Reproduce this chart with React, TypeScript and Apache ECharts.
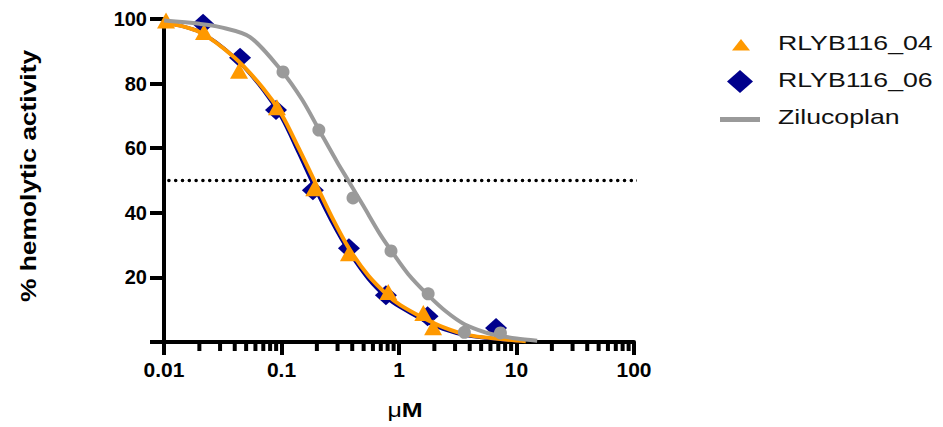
import React, { useEffect, useRef } from "react";
import * as echarts from "echarts";

// ---- data ----
const xTickLabels = ["0.01", "0.1", "1", "10", "100"];
const yTickLabels = ["", "20", "40", "60", "80", "100"];
const minorTicks = [
  0.02, 0.03, 0.04, 0.05, 0.06, 0.07, 0.08, 0.09,
  0.2, 0.3, 0.4, 0.5, 0.6, 0.7, 0.8, 0.9,
  2, 3, 4, 5, 6, 7, 8, 9,
  20, 30, 40, 50, 60, 70, 80, 90,
];
const halfLine = [[0.011, 50], [126, 50]];

const rlyb04Points = [
  [0.0104, 99.5], [0.0219, 96], [0.0435, 84], [0.0915, 72.7], [0.19, 47.6],
  [0.375, 27.5], [0.81, 15.5], [1.61, 9], [1.95, 4.6],
];
const rlyb06Points = [
  [0.0215, 98.5], [0.0444, 88], [0.0898, 71.8], [0.185, 47], [0.375, 29],
  [0.774, 14.5], [1.75, 8], [6.7, 4.3],
];
const ziluPoints = [
  [0.103, 83.6], [0.208, 65.6], [0.406, 44.6], [0.855, 28.2], [1.77, 14.9],
  [3.6, 3], [7.3, 2.8],
];

const rlyb04Curve = [
  [0.01, 99], [0.02, 96], [0.04, 88], [0.07, 78.5], [0.1, 70.5], [0.14, 60],
  [0.19, 50], [0.27, 38.5], [0.375, 29], [0.55, 20.5], [0.8, 14.5], [1.02, 11.5],
  [1.6, 7.5], [2.37, 4.6], [3.8, 2.2], [7.3, 0.9], [12, 0.2],
];
const rlyb06Curve = [
  [0.01, 99], [0.02, 96], [0.04, 88], [0.07, 78], [0.1, 69.5], [0.14, 58.5],
  [0.185, 49], [0.27, 37], [0.375, 28], [0.55, 19.5], [0.8, 13.5], [1.02, 10.8],
  [1.6, 6.8], [2.37, 4], [3.8, 2], [7.3, 0.8], [11, 0.3],
];
const ziluCurve = [
  [0.01, 99.5], [0.02, 98.5], [0.03, 97.5], [0.054, 94.4], [0.1, 84], [0.15, 75],
  [0.21, 65.5], [0.3, 55.5], [0.37, 50], [0.5, 42], [0.7, 33], [0.85, 28.5],
  [1.2, 21], [1.77, 14.5], [2.5, 9.5], [3.6, 5.5], [5.5, 2.9], [7.3, 1.9],
  [10, 1.1], [15, 0.4],
];

const ORANGE = "#FF9900";
const NAVY = "#00008C";
const GRAY = "#9A9A9A";
const FONT = '"Liberation Sans", Arial, sans-serif';

export default function App() {
  const ref = useRef<HTMLDivElement>(null);
  useEffect(() => {
    if (!ref.current) return;
    const chart = echarts.init(ref.current, null, { renderer: "svg" });
    chart.setOption({
      animation: false,
      grid: { left: 164, right: 309, top: 19, bottom: 85, containLabel: false },
      xAxis: {
        type: "log",
        logBase: 10,
        min: 0.01,
        max: 100,
        axisLine: { onZero: false, lineStyle: { color: "#000", width: 4 } },
        axisTick: { show: true, length: 13, lineStyle: { color: "#000", width: 4 } },
        minorTick: { show: false },
        splitLine: { show: false },
        axisLabel: {
          margin: 17,
          fontSize: 21,
          fontWeight: "bold",
          fontFamily: FONT,
          color: "#000",
          formatter: (v: number) => {
            const i = Math.round(Math.log10(v)) + 2;
            return xTickLabels[i] ?? "";
          },
        },
      },
      yAxis: {
        type: "value",
        min: 0,
        max: 100,
        interval: 20,
        axisLine: { show: true, onZero: false, lineStyle: { color: "#000", width: 4 } },
        axisTick: { show: true, length: 14, lineStyle: { color: "#000", width: 4 } },
        splitLine: { show: false },
        axisLabel: {
          margin: 17,
          fontSize: 20,
          fontWeight: "bold",
          fontFamily: FONT,
          color: "#000",
          formatter: (v: number) => yTickLabels[Math.round(v / 20)] ?? "",
        },
      },
      graphic: [
        {
          type: "text",
          x: 28,
          y: 176,
          rotation: Math.PI / 2,
          scaleX: 1.2,
          style: {
            text: "% hemolytic activity",
            fontSize: 22,
            fontWeight: "bold",
            fontFamily: FONT,
            fill: "#000",
            align: "center",
            verticalAlign: "middle",
          },
        },
        {
          type: "text",
          x: 405,
          y: 410,
          scaleX: 1.25,
          style: {
            text: "{a|μ}{b|M}",
            align: "center",
            verticalAlign: "middle",
            fill: "#000",
            rich: {
              a: { fontSize: 20, fontFamily: FONT, fontWeight: "normal", fill: "#000" },
              b: { fontSize: 20, fontFamily: FONT, fontWeight: "bold", fill: "#000" },
            },
          },
        },
        // legend
        {
          type: "polygon",
          shape: { points: [[732, 50.5], [741, 39], [750, 50.5]] },
          style: { fill: ORANGE },
        },
        {
          type: "polygon",
          shape: { points: [[727, 81.5], [740, 70], [753, 81.5], [740, 93]] },
          style: { fill: NAVY },
        },
        {
          type: "rect",
          shape: { x: 720, y: 117, width: 40, height: 5 },
          style: { fill: GRAY },
        },
        {
          type: "text",
          x: 778,
          y: 43,
          scaleX: 1.27,
          style: { text: "RLYB116_04", fontSize: 21, fontFamily: FONT, fill: "#111", verticalAlign: "middle" },
        },
        {
          type: "text",
          x: 778,
          y: 80,
          scaleX: 1.27,
          style: { text: "RLYB116_06", fontSize: 21, fontFamily: FONT, fill: "#111", verticalAlign: "middle" },
        },
        {
          type: "text",
          x: 778,
          y: 117,
          scaleX: 1.27,
          style: { text: "Zilucoplan", fontSize: 21, fontFamily: FONT, fill: "#111", verticalAlign: "middle" },
        },
      ],
      series: [
        {
          type: "custom",
          name: "minorTicks",
          clip: false,
          silent: true,
          z: 1,
          data: minorTicks.map((v) => [v, 0]),
          renderItem: (params: any, api: any) => {
            const p = api.coord([api.value(0), 0]);
            return {
              type: "line",
              shape: { x1: p[0], y1: p[1], x2: p[0], y2: p[1] + 9 },
              style: { stroke: "#000", lineWidth: 4 },
            };
          },
        },
        {
          type: "line",
          name: "half",
          data: halfLine,
          clip: false,
          symbol: "none",
          silent: true,
          z: 2,
          lineStyle: { color: "#000", width: 3.5, type: [0.1, 6.7], cap: "round" },
        },
        {
          type: "scatter",
          name: "RLYB116_06",
          data: rlyb06Points,
          symbol: "diamond",
          symbolSize: [22, 20],
          itemStyle: { color: NAVY, opacity: 1 },
          z: 3,
        },
        {
          type: "line",
          name: "RLYB116_06 fit",
          data: rlyb06Curve,
          smooth: 0.3,
          symbol: "none",
          lineStyle: { color: NAVY, width: 3.5 },
          z: 4,
        },
        {
          type: "scatter",
          name: "RLYB116_04",
          data: rlyb04Points,
          symbol: "triangle",
          symbolSize: [18, 16],
          itemStyle: { color: ORANGE, opacity: 1 },
          z: 5,
        },
        {
          type: "line",
          name: "RLYB116_04 fit",
          data: rlyb04Curve,
          smooth: 0.3,
          symbol: "none",
          lineStyle: { color: ORANGE, width: 4 },
          z: 6,
        },
        {
          type: "line",
          name: "Zilucoplan",
          data: ziluCurve,
          smooth: 0.3,
          symbol: "none",
          lineStyle: { color: GRAY, width: 4 },
          z: 7,
        },
        {
          type: "scatter",
          name: "Zilucoplan points",
          data: ziluPoints,
          symbol: "circle",
          symbolSize: 13,
          itemStyle: { color: GRAY, opacity: 1 },
          z: 8,
        },
      ],
    });
    return () => chart.dispose();
  }, []);
  return (
    <div
      ref={ref}
      style={{ position: "fixed", left: 0, top: 0, width: 943, height: 427, background: "#fff" }}
    />
  );
}
